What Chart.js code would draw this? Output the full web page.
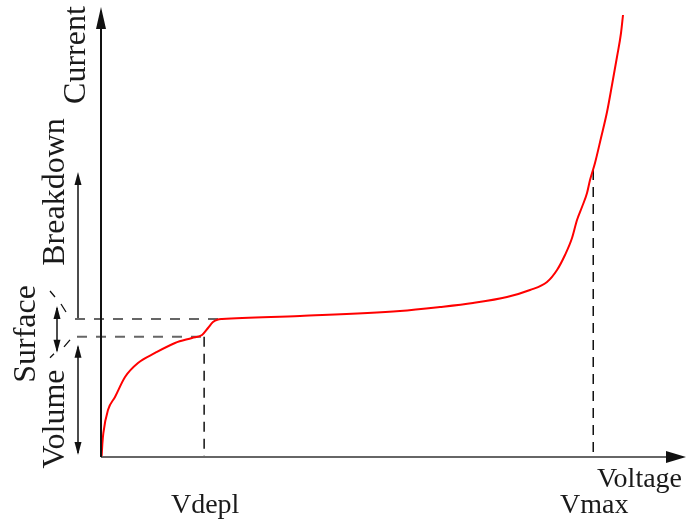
<!doctype html>
<html>
<head>
<script src="https://cdn.jsdelivr.net/npm/chart.js@4/dist/chart.umd.min.js"></script>
<style>
body { margin: 0; background: #fff; }
canvas { display: block; }
</style>
<script>
// curve (arbitrary units, 0..100 on both axes)
const voltage = [0.1, 0.25, 0.4, 1.19, 2.39, 4.1, 6.31, 9.22, 12.63, 15.53, 17.24, 18.26, 19.11, 19.97, 20.65, 33.96, 51.02, 57.85, 63.48, 69.28, 73.21, 76.11, 77.82, 79.18, 80.38, 81.23, 82.08, 82.94, 83.45, 84.3, 85.32, 86.35, 87.2, 88.05, 88.74, 89.08];
const current = [0, 3.2, 5.25, 10.28, 13.13, 17.51, 20.57, 22.76, 24.95, 26.04, 26.7, 28.23, 29.54, 30.09, 30.2, 30.85, 31.95, 32.82, 33.7, 35.01, 36.54, 38.29, 40.92, 44.2, 47.92, 51.86, 54.7, 57.77, 60.61, 64.33, 69.8, 75.49, 81.4, 87.53, 92.78, 96.72];

// marked voltages and current levels
const vLabels = ['Vdepl', 'Vmax'];
const vMarks = [17.6, 84];
const kneeV = 20;            // where the curve reaches the plateau
const volumeLevel = 26.3;
const surfaceLevel = 30.2;
const breakdownLevel = 62.8;
const axisTitles = ['Voltage', 'Current'];
const bandLabels = ['Volume', 'Surface', 'Breakdown'];

function arrowHead(ctx, x, y, dx, dy, len, half) {
  // tip at (x,y), pointing along (dx,dy)
  const px = -dy, py = dx;
  ctx.beginPath();
  ctx.moveTo(x, y);
  ctx.lineTo(x - dx * len + px * half, y - dy * len + py * half);
  ctx.lineTo(x - dx * len - px * half, y - dy * len - py * half);
  ctx.closePath();
  ctx.fill();
}

function vLine(ctx, x, y1, y2) {
  ctx.beginPath();
  ctx.moveTo(x, y1);
  ctx.lineTo(x, y2);
  ctx.stroke();
}

function hLine(ctx, y, x1, x2) {
  ctx.beginPath();
  ctx.moveTo(x1, y);
  ctx.lineTo(x2, y);
  ctx.stroke();
}

function rotText(ctx, text, x, y) {
  ctx.save();
  ctx.translate(x, y);
  ctx.rotate(-Math.PI / 2);
  ctx.fillText(text, 0, 0);
  ctx.restore();
}

const sketch = {
  id: 'sketch',
  beforeDatasetsDraw(chart) {
    const ctx = chart.ctx;
    const xs = chart.scales.x, ys = chart.scales.y;
    const a = chart.chartArea;
    ctx.save();
    // horizontal dashed levels
    ctx.strokeStyle = '#666';
    ctx.lineWidth = 2;
    ctx.setLineDash([10, 9]);
    hLine(ctx, ys.getPixelForValue(surfaceLevel), a.left - 26, xs.getPixelForValue(kneeV));
    hLine(ctx, ys.getPixelForValue(volumeLevel), a.left - 24, xs.getPixelForValue(vMarks[0]));
    // vertical dashed markers
    ctx.strokeStyle = '#111';
    ctx.lineWidth = 1.5;
    ctx.setLineDash([10, 7]);
    vLine(ctx, xs.getPixelForValue(vMarks[0]), ys.getPixelForValue(volumeLevel), ys.getPixelForValue(0));
    vLine(ctx, xs.getPixelForValue(vMarks[1]), ys.getPixelForValue(breakdownLevel), ys.getPixelForValue(0));
    ctx.restore();
  },
  afterDraw(chart) {
    const ctx = chart.ctx;
    const xs = chart.scales.x, ys = chart.scales.y;
    const a = chart.chartArea;
    const x0 = xs.getPixelForValue(0), y0 = ys.getPixelForValue(0);
    ctx.save();
    ctx.setLineDash([]);

    // axes
    ctx.strokeStyle = '#666';
    ctx.fillStyle = '#111';
    ctx.lineWidth = 2;
    hLine(ctx, y0, x0, a.right - 12);
    arrowHead(ctx, a.right - 1, y0, 1, 0, 20, 6);
    ctx.strokeStyle = '#111';
    vLine(ctx, x0, y0, 20);
    arrowHead(ctx, x0, 7, 0, -1, 22, 5);

    // band arrows on the left
    ctx.lineWidth = 1.5;
    const colA = x0 - 23, colB = x0 - 44;
    const yVol = ys.getPixelForValue(volumeLevel);
    const ySurf = ys.getPixelForValue(surfaceLevel);
    const yBrk = ys.getPixelForValue(breakdownLevel);
    // volume
    vLine(ctx, colA, y0 - 4, yVol + 10);
    arrowHead(ctx, colA, yVol + 8, 0, -1, 13, 3.5);
    arrowHead(ctx, colA, y0 - 2, 0, 1, 13, 3.5);
    // breakdown
    vLine(ctx, colA, ySurf - 1, yBrk + 8);
    arrowHead(ctx, colA, yBrk + 2, 0, -1, 13, 3.5);
    // surface
    vLine(ctx, colB, ySurf - 11, yVol + 14);
    arrowHead(ctx, colB, ySurf - 13, 0, -1, 13, 3.5);
    arrowHead(ctx, colB, yVol + 16, 0, 1, 13, 3.5);
    // little brace ticks
    ctx.lineWidth = 1.3;
    ctx.beginPath();
    ctx.moveTo(colB - 7, ySurf - 28); ctx.lineTo(colB - 2, ySurf - 22);
    ctx.moveTo(colB + 4, ySurf - 15); ctx.lineTo(colB + 9, ySurf - 7);
    ctx.moveTo(colB + 7, yVol + 10); ctx.lineTo(colB + 13, yVol + 3);
    ctx.moveTo(colB - 7, yVol + 21); ctx.lineTo(colB - 3, yVol + 17);
    ctx.stroke();

    // texts
    ctx.fillStyle = '#1a1a1a';
    ctx.textBaseline = 'alphabetic';
    ctx.font = '28px "Liberation Serif", serif';
    ctx.textAlign = 'left';
    ctx.fillText(axisTitles[0], a.right - 90, y0 + 30);
    ctx.textAlign = 'center';
    vLabels.forEach((t, i) => ctx.fillText(t, xs.getPixelForValue(vMarks[i]) + 1, y0 + 56));

    ctx.font = '32px "Liberation Serif", serif';
    rotText(ctx, axisTitles[1], x0 - 16, 55);
    rotText(ctx, bandLabels[2], x0 - 37, yBrk + 22);
    rotText(ctx, bandLabels[1], x0 - 66, (ySurf + yVol) / 2 + 6);
    rotText(ctx, bandLabels[0], x0 - 37, y0 - 38);
    ctx.restore();
  }
};

function start() {
  const points = voltage.map((v, i) => ({ x: v, y: current[i] }));
  const ctx = document.getElementById('iv-chart').getContext('2d');
  new Chart(ctx, {
    type: 'line',
    data: {
      datasets: [{
        label: 'Current',
        data: points,
        borderColor: '#ff0000',
        borderWidth: 2,
        pointRadius: 0,
        cubicInterpolationMode: 'monotone',
        fill: false,
        clip: false
      }]
    },
    options: {
      responsive: false,
      animation: false,
      devicePixelRatio: 1,
      layout: { padding: { left: 101, right: 0, top: 0, bottom: 62 } },
      plugins: { legend: { display: false }, tooltip: { enabled: false } },
      scales: {
        x: { type: 'linear', min: 0, max: 100, display: false },
        y: { type: 'linear', min: 0, max: 100, display: false }
      }
    },
    plugins: [sketch]
  });
}
</script>
</head>
<body onload="start()">
<canvas id="iv-chart" width="687" height="519"></canvas>
</body>
</html>
